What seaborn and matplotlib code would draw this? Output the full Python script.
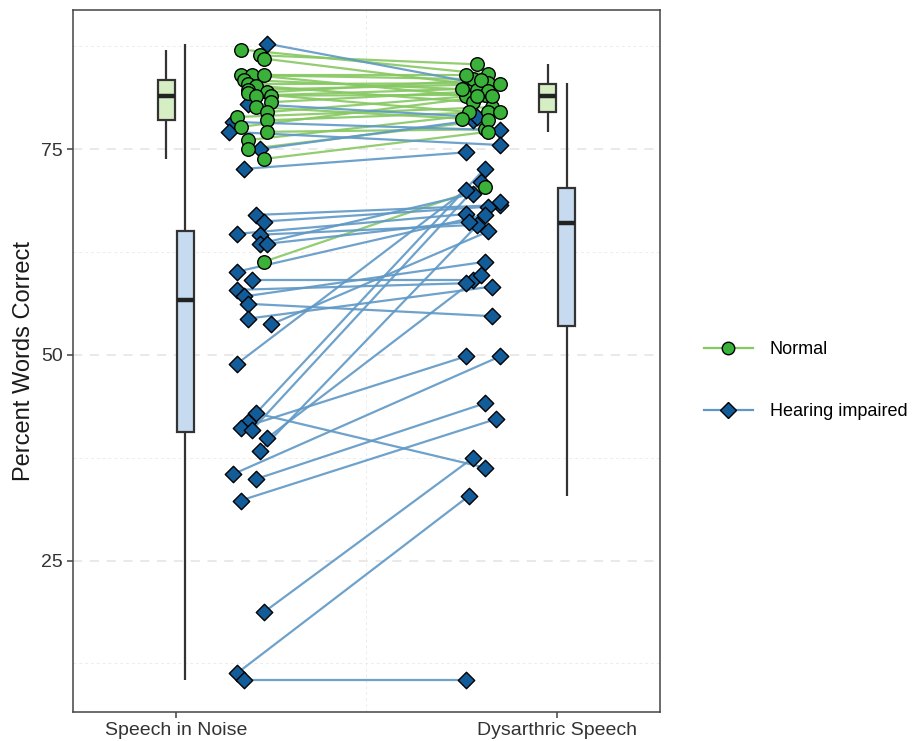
import numpy as np
import pandas as pd
import matplotlib
matplotlib.use("Agg")
import matplotlib.pyplot as plt
from matplotlib.lines import Line2D
import seaborn as sns

# Valores (um sujeito por posição)
sin_hi = [87.8, 78.3, 77.1, 75.0, 72.6, 67.0, 66.2, 64.7, 64.6, 63.5, 63.5, 60.1, 59.1, 57.9, 57.1, 56.2,
          54.4, 53.7, 48.9, 42.9, 41.9, 41.1, 40.9, 39.9, 38.3, 35.5, 34.9, 32.3, 18.7, 11.3, 10.5, 80.5]
ds_hi = [83.0, 77.3, 75.5, 78.5, 74.6, 68.2, 68.0, 67.1, 65.8, 69.6, 66.2, 67.0, 59.1, 58.7, 61.3, 54.7,
         58.3, 65.0, 70.0, 36.3, 72.6, 49.8, 71.0, 59.7, 68.6, 49.8, 44.1, 42.2, 37.5, 32.9, 10.5, 78.9]
sin_hi_x = [1.24, 1.15, 1.14, 1.22, 1.18, 1.21, 1.23, 1.16, 1.22, 1.22, 1.24, 1.16, 1.20, 1.16, 1.18, 1.19,
            1.19, 1.25, 1.16, 1.21, 1.19, 1.17, 1.20, 1.24, 1.22, 1.15, 1.21, 1.17, 1.23, 1.16, 1.18, 1.19]
ds_hi_x = [1.79, 1.85, 1.85, 1.78, 1.76, 1.85, 1.82, 1.76, 1.79, 1.78, 1.77, 1.81, 1.78, 1.76, 1.81, 1.83,
           1.83, 1.82, 1.76, 1.81, 1.81, 1.76, 1.80, 1.80, 1.85, 1.85, 1.81, 1.84, 1.78, 1.77, 1.76, 1.79]

sin_nh = [87.1, 86.4, 86.0, 84.0, 84.0, 84.0, 83.4, 82.9, 82.7, 82.2, 81.9, 81.8, 81.5, 81.5, 80.7, 80.1,
          79.5, 78.9, 78.5, 77.7, 77.1, 76.1, 75.0, 73.8, 61.3]
ds_nh = [84.1, 85.3, 82.9, 83.5, 81.5, 84.0, 82.2, 83.0, 80.7, 82.9, 83.4, 79.5, 82.3, 81.6, 82.1, 78.7,
         81.5, 80.1, 79.5, 81.5, 77.4, 79.5, 78.5, 77.1, 70.4]
sin_nh_x = [1.17, 1.22, 1.23, 1.17, 1.20, 1.23, 1.18, 1.19, 1.21, 1.19, 1.24, 1.19, 1.21, 1.25, 1.25, 1.21,
            1.24, 1.16, 1.24, 1.17, 1.24, 1.19, 1.19, 1.23, 1.23]
ds_nh_x = [1.82, 1.79, 1.77, 1.78, 1.76, 1.76, 1.79, 1.82, 1.78, 1.85, 1.80, 1.77, 1.75, 1.81, 1.82, 1.75,
           1.79, 1.83, 1.82, 1.83, 1.81, 1.85, 1.82, 1.82, 1.81]

conditions = ["Speech in Noise", "Dysarthric Speech"]
groups = ["Normal", "Hearing impaired"]
box_offset = {"Normal": -0.025, "Hearing impaired": 0.025}

line_cols = {"Normal": "#86c862", "Hearing impaired": "#5f98c6"}
point_cols = {"Normal": "#3ab23a", "Hearing impaired": "#135c9a"}
box_cols = {"Normal": "#d6eec4", "Hearing impaired": "#c6dbef"}
markers = {"Normal": "o", "Hearing impaired": "D"}

# Montar tabela longa
rows = []
for grp, sin, ds, sx, dx in [("Normal", sin_nh, ds_nh, sin_nh_x, ds_nh_x),
                             ("Hearing impaired", sin_hi, ds_hi, sin_hi_x, ds_hi_x)]:
    for i in range(len(sin)):
        subj = f"{grp}_{i}"
        rows.append({"subject": subj, "group": grp, "condition": 1, "score": sin[i], "xpos": sx[i]})
        rows.append({"subject": subj, "group": grp, "condition": 2, "score": ds[i], "xpos": dx[i]})
df = pd.DataFrame(rows)
df["boxpos"] = df["condition"] + df["group"].map(box_offset)

plt.rcParams["font.family"] = ["Liberation Sans", "DejaVu Sans"]
fig = plt.figure(figsize=(9.18, 7.41), dpi=100)
ax = fig.add_axes([0.0795, 0.0391, 0.6394, 0.9474])

# Grade
for y in [25, 50, 75]:
    ax.axhline(y, color="#e3e3e3", lw=1.1, ls=(0, (6, 5)), zorder=0)
for y in [12.5, 37.5, 62.5, 87.5]:
    ax.axhline(y, color="#ececec", lw=0.7, ls=(0, (3, 3)), zorder=0)
ax.axvline(1.5, color="#ececec", lw=0.7, ls=(0, (3, 3)), zorder=0)

# Linhas pareadas
for grp in groups:
    sub = df[df["group"] == grp]
    sns.lineplot(data=sub, x="xpos", y="score", units="subject", estimator=None, sort=False,
                 color=line_cols[grp], lw=1.6, alpha=0.9, ax=ax, legend=False, zorder=2)

# Pontos
for grp in ["Hearing impaired", "Normal"]:
    sub = df[df["group"] == grp]
    sns.scatterplot(data=sub, x="xpos", y="score", marker=markers[grp], color=point_cols[grp],
                    edgecolor="black", linewidth=1.0, s=95 if grp == "Normal" else 70,
                    ax=ax, legend=False, zorder=3)

# Boxplots
sns.boxplot(data=df, x="boxpos", y="score", hue="group", native_scale=True, dodge=False,
            palette=box_cols, saturation=1, width=0.92, showfliers=False, showcaps=False,
            linecolor="#333333", linewidth=1.6, medianprops={"linewidth": 3.2, "color": "#222222"},
            ax=ax, legend=False)

ax.set_xlim(0.73, 2.27)
ax.set_ylim(6.6, 91.9)
ax.set_xticks([1, 2])
ax.set_xticklabels(conditions)
ax.set_yticks([25, 50, 75])
ax.set_xlabel("")
ax.set_ylabel("Percent Words Correct", fontsize=17, labelpad=4, color="#1a1a1a")
ax.tick_params(axis="both", labelsize=14, colors="#444444", length=4, width=1.1, labelcolor="#333333")
for sp in ax.spines.values():
    sp.set_color("#444444")
    sp.set_linewidth(1.1)
ax.grid(False)

handles = [Line2D([0], [0], color=line_cols[g], lw=1.6, marker=markers[g], markerfacecolor=point_cols[g],
                  markeredgecolor="black", markersize=9 if g == "Normal" else 8) for g in groups]
fig.legend(handles, groups, loc="center left", bbox_to_anchor=(0.757, 0.486), frameon=False,
           fontsize=13, handlelength=2.7, labelspacing=2.5, handletextpad=0.95, borderpad=0)

plt.savefig("out.png", dpi=100)
plt.close()
